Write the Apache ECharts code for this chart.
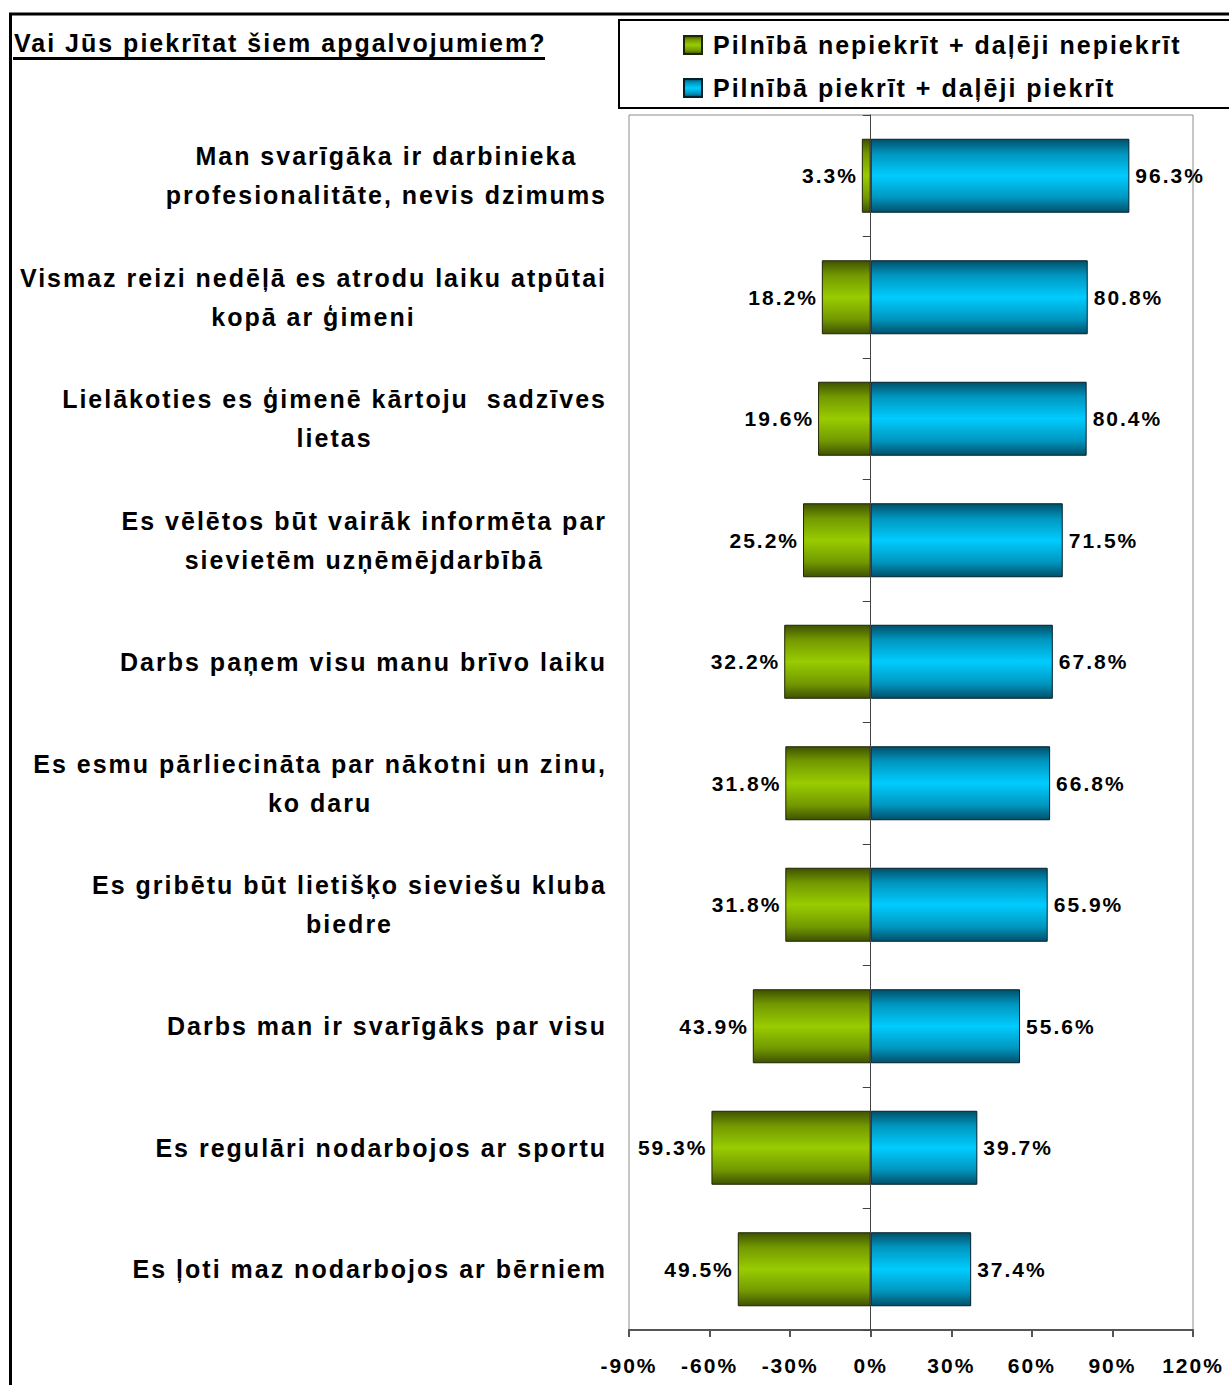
<!DOCTYPE html>
<html>
<head>
<meta charset="utf-8">
<script src="https://cdn.jsdelivr.net/npm/echarts@6/dist/echarts.min.js"></script>
<style>
html, body { margin: 0; padding: 0; background: #fff; }
#chart { width: 1229px; height: 1385px; }
/* the original uses widely tracked text */
#chart svg text { letter-spacing: 2px; }
</style>
</head>
<body>
<div id="chart"></div>
<script>
// apgalvojumi (no augšas uz leju)
var categories = [
    'Man svarīgāka ir darbinieka\nprofesionalitāte, nevis dzimums',
    'Vismaz reizi nedēļā es atrodu laiku atpūtai\nkopā ar ģimeni',
    'Lielākoties es ģimenē kārtoju  sadzīves\nlietas',
    'Es vēlētos būt vairāk informēta par\nsievietēm uzņēmējdarbībā',
    'Darbs paņem visu manu brīvo laiku',
    'Es esmu pārliecināta par nākotni un zinu,\nko daru',
    'Es gribētu būt lietišķo sieviešu kluba\nbiedre',
    'Darbs man ir svarīgāks par visu',
    'Es regulāri nodarbojos ar sportu',
    'Es ļoti maz nodarbojos ar bērniem'
];
var seriesNames = ['Pilnībā nepiekrīt + daļēji nepiekrīt', 'Pilnībā piekrīt + daļēji piekrīt'];
var disagree = [3.3, 18.2, 19.6, 25.2, 32.2, 31.8, 31.8, 43.9, 59.3, 49.5];
var agree = [96.3, 80.8, 80.4, 71.5, 67.8, 66.8, 65.9, 55.6, 39.7, 37.4];
var xTicks = [-90, 120, 30]; // min, max, interval

var font = '"Liberation Sans", Arial, sans-serif';

// measure text with the same 2px tracking the css gives the svg text
var measureCtx = document.createElement('canvas').getContext('2d');
echarts.setPlatformAPI({
    measureText: function (text, f) {
        measureCtx.font = f || '12px sans-serif';
        measureCtx.letterSpacing = '2px';
        return measureCtx.measureText(text);
    }
});

function barGradient(edge, mid, center) {
    return new echarts.graphic.LinearGradient(0, 0, 0, 1, [
        {offset: 0, color: edge},
        {offset: 0.2, color: mid},
        {offset: 0.5, color: center},
        {offset: 0.8, color: mid},
        {offset: 1, color: edge}
    ]);
}

var chart = echarts.init(document.getElementById('chart'), null, {renderer: 'svg'});
chart.setOption({
    backgroundColor: '#fff',
    textStyle: {fontFamily: font},
    animation: false,
    grid: {
        left: 629, right: 36, top: 115, bottom: 55,
        show: true, borderColor: '#8c8c8c', borderWidth: 1,
        outerBoundsMode: 'none'
    },
    legend: {
        orient: 'vertical',
        left: 683, top: 30,
        padding: 0,
        icon: 'rect',
        itemWidth: 18, itemHeight: 18,
        itemGap: 13,
        textStyle: {fontFamily: font, fontSize: 25, fontWeight: 'bold', color: '#000', lineHeight: 30, padding: [0, 0, 0, 6]},
        data: seriesNames
    },
    graphic: [
        {type: 'rect', shape: {x: 619, y: 20, width: 640, height: 88}, style: {fill: null, stroke: '#000', lineWidth: 2}, z: 10},
        {type: 'line', shape: {x1: 9, y1: 14, x2: 1240, y2: 14}, style: {stroke: '#000', lineWidth: 3}, z: 10},
        {type: 'line', shape: {x1: 10.5, y1: 13, x2: 10.5, y2: 1400}, style: {stroke: '#000', lineWidth: 3}, z: 10},
        {type: 'text', left: 14, top: 29, style: {text: 'Vai Jūs piekrītat šiem apgalvojumiem?', font: 'bold 25px ' + font, fill: '#000'}, z: 10},
        {type: 'line', shape: {x1: 13, y1: 58.5, x2: 545, y2: 58.5}, style: {stroke: '#000', lineWidth: 3}, z: 10}
    ],
    xAxis: {
        type: 'value',
        min: xTicks[0], max: xTicks[1], interval: xTicks[2],
        axisLine: {show: true, onZero: false, lineStyle: {color: '#555', width: 2}},
        axisTick: {show: true, length: 7, lineStyle: {color: '#555', width: 2}},
        splitLine: {show: false},
        axisLabel: {
            margin: 24,
            fontFamily: font, fontSize: 21, fontWeight: 'bold', color: '#000',
            formatter: function (v) { return v + '%'; }
        }
    },
    yAxis: [{
        type: 'category',
        inverse: true,
        data: categories,
        axisLine: {show: false, onZero: false},
        axisTick: {show: false},
        axisLabel: {
            interval: 0,
            margin: 22,
            formatter: function (v) {
                return v.split('\n').map(function (s) { return '{c|' + s + '}'; }).join('\n');
            },
            rich: {
                c: {align: 'center', fontFamily: font, fontSize: 25, fontWeight: 'bold', color: '#000', lineHeight: 39}
            }
        }
    }, {
        type: 'category',
        inverse: true,
        position: 'right',
        data: categories,
        z: 5,
        axisLine: {show: true, onZero: true, lineStyle: {color: '#444', width: 1}},
        axisTick: {show: true, inside: true, length: 8, lineStyle: {color: '#444'}},
        axisLabel: {show: false}
    }],
    series: [{
        name: seriesNames[0],
        type: 'bar',
        stack: 'total',
        barWidth: 74,
        data: disagree.map(function (v) { return -v; }),
        itemStyle: {
            color: barGradient('#3f5200', '#739900', '#99cc00'),
            borderColor: '#1e2600', borderWidth: 1
        },
        label: {
            show: true, position: 'left', distance: 4,
            fontFamily: font, fontSize: 21, fontWeight: 'bold', color: '#000',
            formatter: function (p) { return Math.abs(p.value).toFixed(1) + '%'; }
        }
    }, {
        name: seriesNames[1],
        type: 'bar',
        stack: 'total',
        barWidth: 74,
        data: agree,
        itemStyle: {
            color: barGradient('#00506a', '#0096bf', '#00ccff'),
            borderColor: '#00202c', borderWidth: 1
        },
        label: {
            show: true, position: 'right', distance: 6,
            fontFamily: font, fontSize: 21, fontWeight: 'bold', color: '#000',
            formatter: function (p) { return p.value.toFixed(1) + '%'; }
        }
    }]
});
</script>
</body>
</html>
